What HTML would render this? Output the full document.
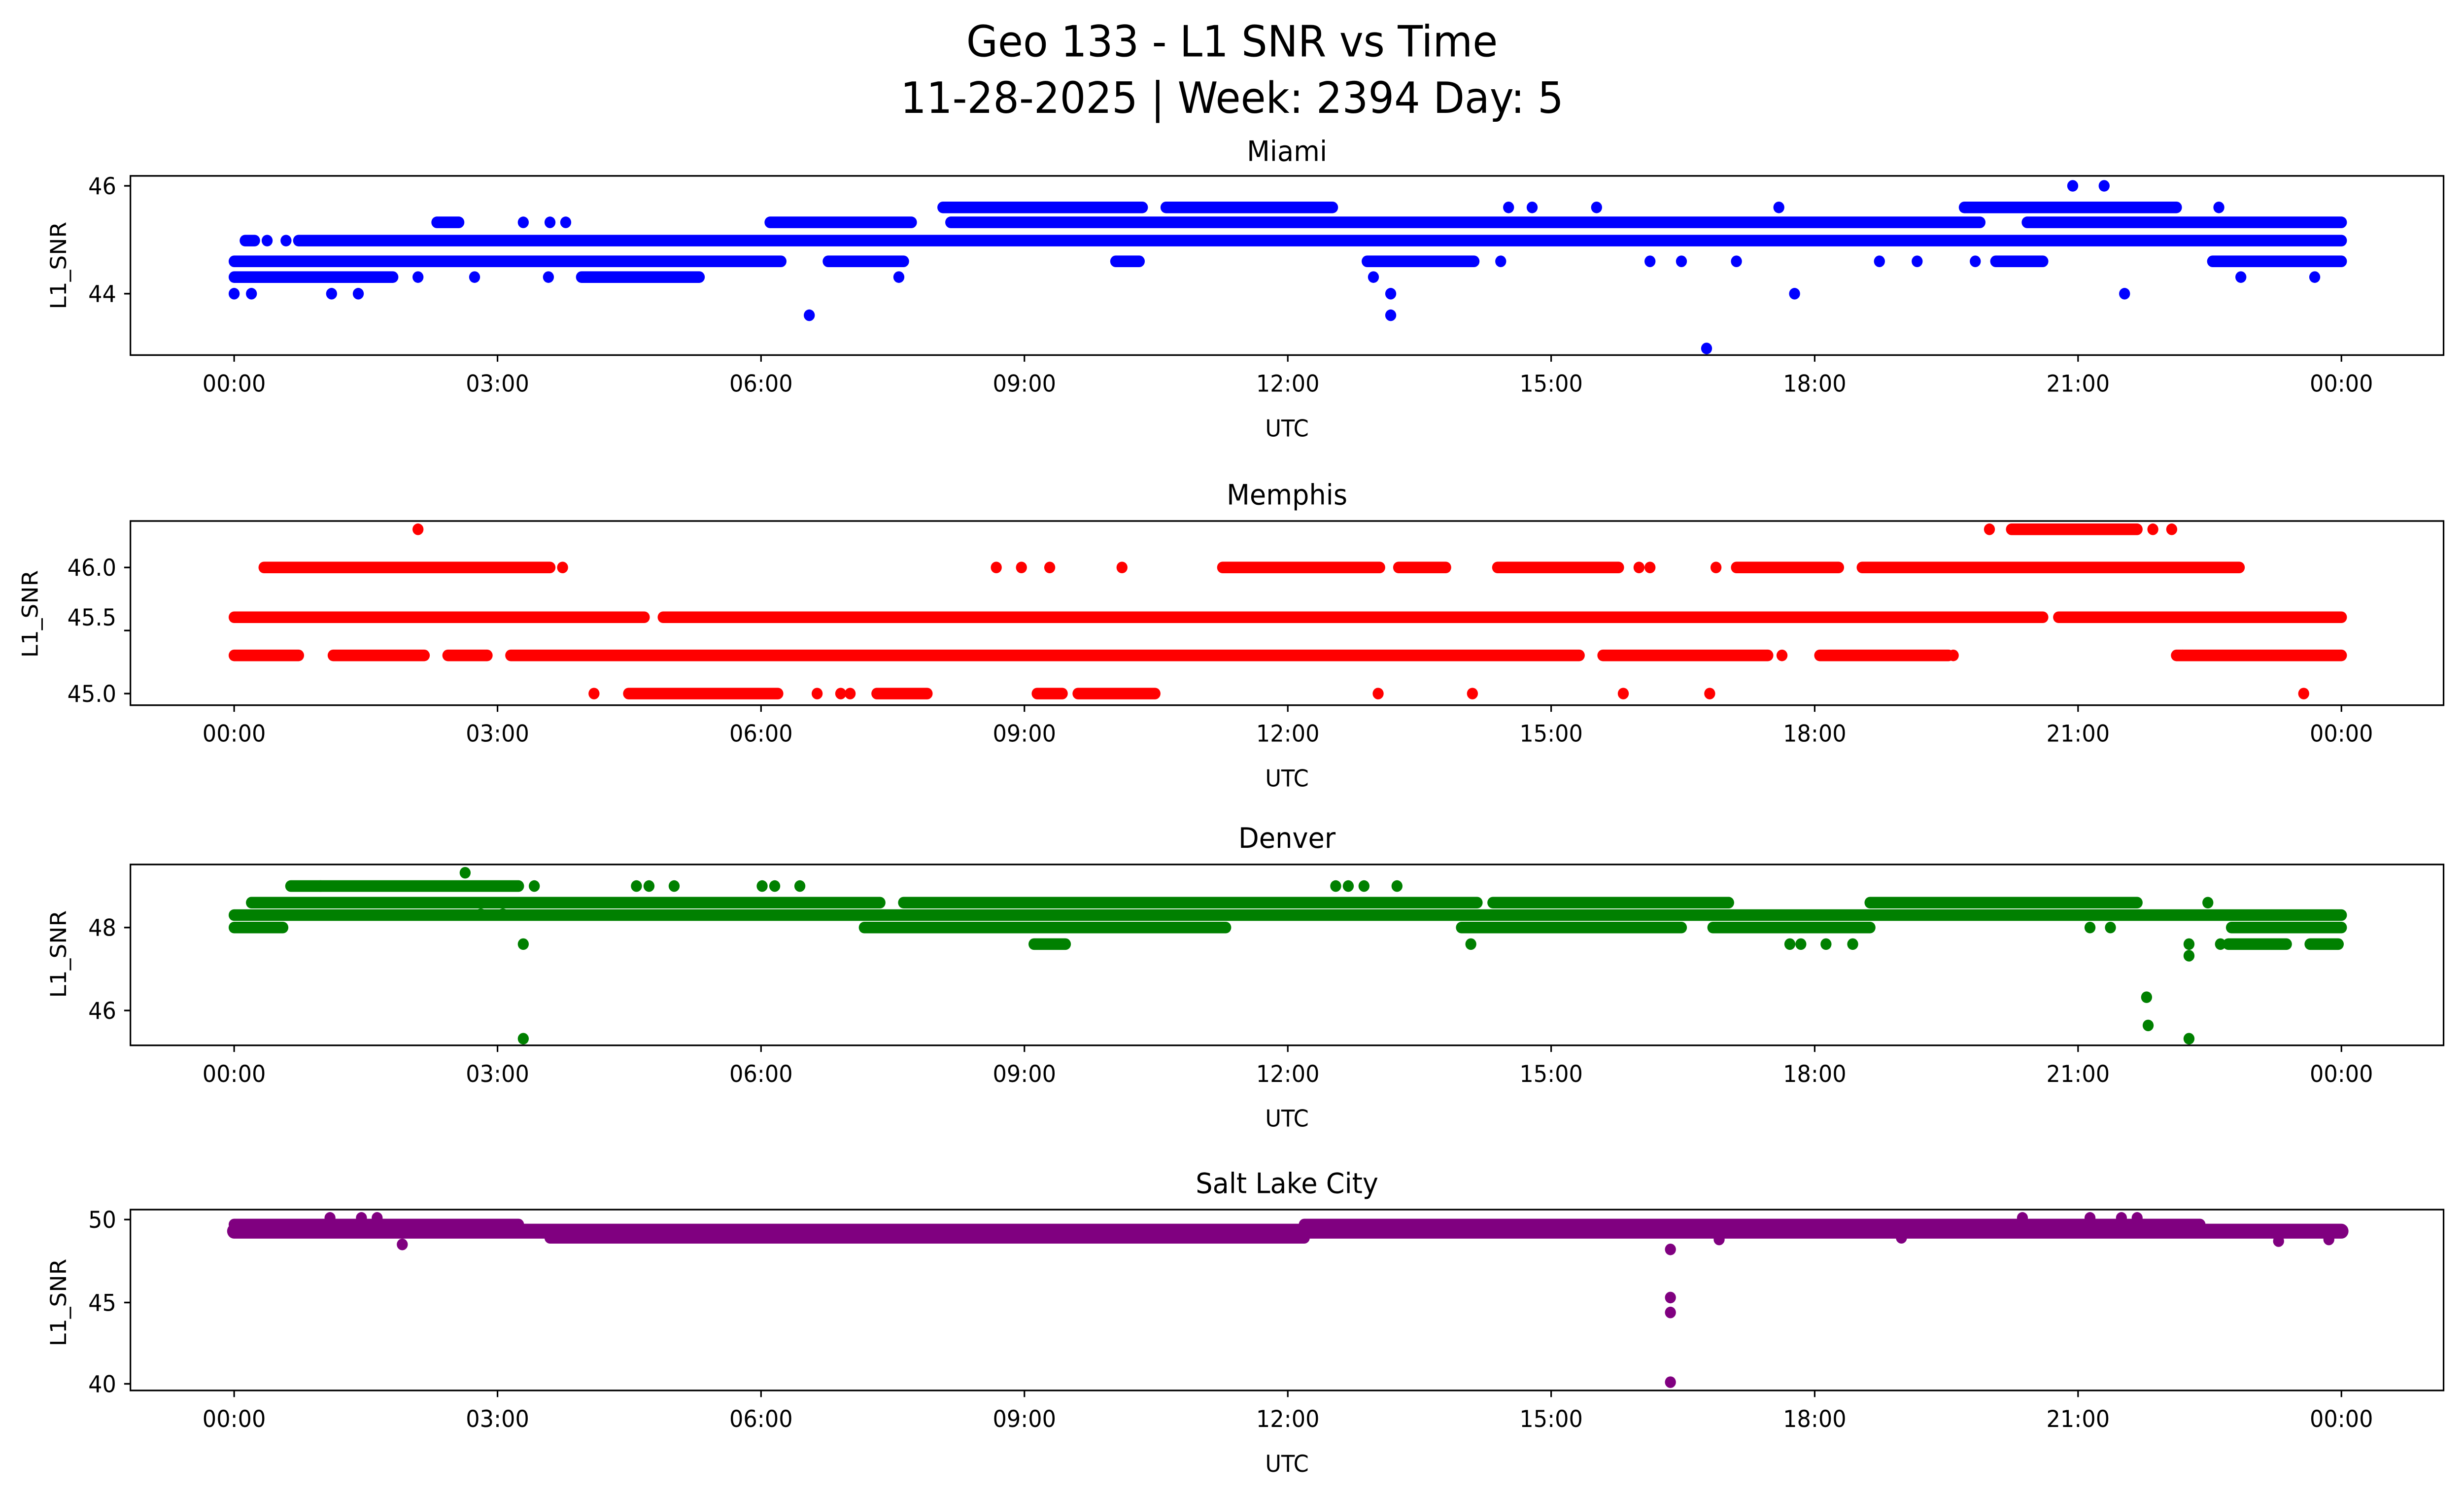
<!DOCTYPE html>
<html><head><meta charset="utf-8"><style>
html,body{margin:0;padding:0;background:#fff;overflow:hidden;width:100vw;height:100vh}
svg{display:block;width:100vw;height:100vh}
text{font-family:"DejaVu Sans","Liberation Sans",sans-serif;fill:#000}
</style></head><body>
<svg viewBox="0 0 1568 901" preserveAspectRatio="none" xmlns="http://www.w3.org/2000/svg">
<rect width="1568" height="901" fill="#fff"/>
<text x="784" y="34" font-size="26" text-anchor="middle">Geo 133 - L1 SNR vs Time</text>
<text x="784" y="68" font-size="26" text-anchor="middle">11-28-2025 | Week: 2394 Day: 5</text>

<!-- Miami -->
<g stroke="#0000ff" stroke-width="7" stroke-linecap="round" fill="#0000ff">
<line x1="149" y1="157.5" x2="497" y2="157.5"/><line x1="527" y1="157.5" x2="575" y2="157.5"/>
<line x1="870" y1="157.5" x2="938" y2="157.5"/><line x1="1408" y1="157.5" x2="1490" y2="157.5"/>
<line x1="710" y1="157.5" x2="725" y2="157.5"/><line x1="1270" y1="157.5" x2="1300" y2="157.5"/>
<line x1="149" y1="167" x2="250" y2="167"/><line x1="370" y1="167" x2="445" y2="167"/>
<line x1="190" y1="145" x2="1490" y2="145"/><line x1="156" y1="145" x2="162" y2="145"/>
<line x1="278" y1="134" x2="292" y2="134"/><line x1="490" y1="134" x2="580" y2="134"/>
<line x1="605" y1="134" x2="1260" y2="134"/><line x1="1290" y1="134" x2="1490" y2="134"/>
<line x1="600" y1="125" x2="727" y2="125"/><line x1="742" y1="125" x2="848" y2="125"/><line x1="1250" y1="125" x2="1385" y2="125"/>
</g>
<g fill="#0000ff">
<circle cx="149" cy="177" r="3.5"/><circle cx="160" cy="177" r="3.5"/><circle cx="211" cy="177" r="3.5"/><circle cx="228" cy="177" r="3.5"/>
<circle cx="515" cy="190" r="3.5"/><circle cx="874" cy="167" r="3.5"/><circle cx="885" cy="177" r="3.5"/><circle cx="885" cy="190" r="3.5"/>
<circle cx="1086" cy="210" r="3.5"/><circle cx="1142" cy="177" r="3.5"/><circle cx="1352" cy="177" r="3.5"/>
<circle cx="1319" cy="112" r="3.5"/><circle cx="1339" cy="112" r="3.5"/><circle cx="1016" cy="125" r="3.5"/><circle cx="1132" cy="125" r="3.5"/>
<circle cx="1412" cy="125" r="3.5"/><circle cx="1426" cy="167" r="3.5"/><circle cx="1473" cy="167" r="3.5"/><circle cx="302" cy="167" r="3.5"/><circle cx="349" cy="167" r="3.5"/><circle cx="266" cy="167" r="3.5"/><circle cx="572" cy="167" r="3.5"/>
<circle cx="333" cy="134" r="3.5"/><circle cx="350" cy="134" r="3.5"/><circle cx="360" cy="134" r="3.5"/>
<circle cx="170" cy="145" r="3.5"/><circle cx="182" cy="145" r="3.5"/>
<circle cx="955" cy="157.5" r="3.5"/><circle cx="1050" cy="157.5" r="3.5"/><circle cx="1070" cy="157.5" r="3.5"/><circle cx="1105" cy="157.5" r="3.5"/><circle cx="1196" cy="157.5" r="3.5"/><circle cx="1220" cy="157.5" r="3.5"/><circle cx="1257" cy="157.5" r="3.5"/><circle cx="960" cy="125" r="3.5"/><circle cx="975" cy="125" r="3.5"/>
</g>
<rect x="83" y="106" width="1472" height="108" fill="none" stroke="#000" stroke-width="1"/>
<text x="819" y="97" font-size="17" text-anchor="middle">Miami</text>
<g font-size="14" text-anchor="end"><text x="74" y="117">46</text><text x="74" y="182">44</text></g>
<g stroke="#000"><line x1="79" y1="112" x2="83" y2="112"/><line x1="79" y1="177" x2="83" y2="177"/></g>
<text transform="translate(42,160) rotate(-90)" font-size="14" text-anchor="middle">L1_SNR</text>

<!-- Memphis -->
<g stroke="#ff0000" stroke-width="7" stroke-linecap="round" fill="#ff0000">
<line x1="149" y1="372" x2="410" y2="372"/><line x1="422" y1="372" x2="1300" y2="372"/><line x1="1310" y1="372" x2="1490" y2="372"/>
<line x1="149" y1="395" x2="190" y2="395"/><line x1="212" y1="395" x2="270" y2="395"/><line x1="285" y1="395" x2="310" y2="395"/><line x1="325" y1="395" x2="1005" y2="395"/><line x1="1020" y1="395" x2="1125" y2="395"/><line x1="1158" y1="395" x2="1240" y2="395"/><line x1="1385" y1="395" x2="1490" y2="395"/>
<line x1="168" y1="342" x2="350" y2="342"/><line x1="778" y1="342" x2="878" y2="342"/><line x1="890" y1="342" x2="920" y2="342"/><line x1="953" y1="342" x2="1030" y2="342"/><line x1="1105" y1="342" x2="1170" y2="342"/><line x1="1185" y1="342" x2="1425" y2="342"/>
<line x1="1280" y1="319" x2="1360" y2="319"/>
<line x1="400" y1="418" x2="495" y2="418"/><line x1="558" y1="418" x2="590" y2="418"/><line x1="660" y1="418" x2="676" y2="418"/><line x1="686" y1="418" x2="735" y2="418"/>
</g>
<g fill="#ff0000">
<circle cx="266" cy="319" r="3.5"/><circle cx="1266" cy="319" r="3.5"/><circle cx="1370" cy="319" r="3.5"/><circle cx="1382" cy="319" r="3.5"/>
<circle cx="358" cy="342" r="3.5"/><circle cx="634" cy="342" r="3.5"/><circle cx="650" cy="342" r="3.5"/><circle cx="668" cy="342" r="3.5"/><circle cx="714" cy="342" r="3.5"/><circle cx="1043" cy="342" r="3.5"/><circle cx="1050" cy="342" r="3.5"/><circle cx="1092" cy="342" r="3.5"/>
<circle cx="378" cy="418" r="3.5"/><circle cx="520" cy="418" r="3.5"/><circle cx="535" cy="418" r="3.5"/><circle cx="541" cy="418" r="3.5"/><circle cx="877" cy="418" r="3.5"/><circle cx="937" cy="418" r="3.5"/><circle cx="1033" cy="418" r="3.5"/><circle cx="1088" cy="418" r="3.5"/><circle cx="1466" cy="418" r="3.5"/>
<circle cx="1134" cy="395" r="3.5"/><circle cx="1243" cy="395" r="3.5"/><circle cx="1389" cy="395" r="3.5"/><circle cx="1060" cy="372" r="3.5"/><circle cx="1070" cy="372" r="3.5"/>
</g>
<rect x="83" y="314" width="1472" height="111" fill="none" stroke="#000" stroke-width="1"/>
<text x="819" y="304" font-size="17" text-anchor="middle">Memphis</text>
<g font-size="14" text-anchor="end"><text x="74" y="347">46.0</text><text x="74" y="377">45.5</text><text x="74" y="423">45.0</text></g>
<g stroke="#000"><line x1="79" y1="342" x2="83" y2="342"/><line x1="79" y1="380" x2="83" y2="380"/><line x1="79" y1="418" x2="83" y2="418"/></g>
<text transform="translate(24,370) rotate(-90)" font-size="14" text-anchor="middle">L1_SNR</text>

<!-- Denver -->
<g stroke="#008000" stroke-width="7" stroke-linecap="round" fill="#008000">
<line x1="149" y1="551.5" x2="1490" y2="551.5"/>
<line x1="160" y1="544" x2="560" y2="544"/><line x1="575" y1="544" x2="940" y2="544"/><line x1="950" y1="544" x2="1100" y2="544"/><line x1="1190" y1="544" x2="1360" y2="544"/>
<line x1="185" y1="534" x2="330" y2="534"/>
<line x1="149" y1="559" x2="180" y2="559"/><line x1="550" y1="559" x2="780" y2="559"/><line x1="930" y1="559" x2="1070" y2="559"/><line x1="1090" y1="559" x2="1190" y2="559"/><line x1="1420" y1="559" x2="1490" y2="559"/>
<line x1="658" y1="569" x2="678" y2="569"/><line x1="1418" y1="569" x2="1455" y2="569"/><line x1="1470" y1="569" x2="1488" y2="569"/>
</g>
<g fill="#008000">
<circle cx="296" cy="526" r="3.5"/><circle cx="204" cy="534" r="3.5"/><circle cx="340" cy="534" r="3.5"/><circle cx="405" cy="534" r="3.5"/><circle cx="413" cy="534" r="3.5"/><circle cx="429" cy="534" r="3.5"/><circle cx="485" cy="534" r="3.5"/><circle cx="493" cy="534" r="3.5"/><circle cx="509" cy="534" r="3.5"/><circle cx="850" cy="534" r="3.5"/><circle cx="858" cy="534" r="3.5"/><circle cx="868" cy="534" r="3.5"/><circle cx="889" cy="534" r="3.5"/>
<circle cx="333" cy="569" r="3.5"/><circle cx="333" cy="626" r="3.5"/><circle cx="936" cy="569" r="3.5"/><circle cx="1139" cy="569" r="3.5"/><circle cx="1146" cy="569" r="3.5"/><circle cx="1162" cy="569" r="3.5"/><circle cx="1179" cy="569" r="3.5"/>
<circle cx="1366" cy="601" r="3.5"/><circle cx="1367" cy="618" r="3.5"/><circle cx="1393" cy="626" r="3.5"/><circle cx="1393" cy="576" r="3.5"/><circle cx="1393" cy="569" r="3.5"/><circle cx="1405" cy="544" r="3.5"/><circle cx="1413" cy="569" r="3.5"/>
<circle cx="1100" cy="544" r="3.5"/><circle cx="1330" cy="559" r="3.5"/><circle cx="1343" cy="559" r="3.5"/><circle cx="306" cy="551" r="3.5"/><circle cx="320" cy="551" r="3.5"/>
</g>
<rect x="83" y="521" width="1472" height="109" fill="none" stroke="#000" stroke-width="1"/>
<text x="819" y="511" font-size="17" text-anchor="middle">Denver</text>
<g font-size="14" text-anchor="end"><text x="74" y="564">48</text><text x="74" y="614">46</text></g>
<g stroke="#000"><line x1="79" y1="559" x2="83" y2="559"/><line x1="79" y1="609" x2="83" y2="609"/></g>
<text transform="translate(42,575) rotate(-90)" font-size="14" text-anchor="middle">L1_SNR</text>

<!-- Salt Lake City -->
<g stroke="#800080" stroke-linecap="round" fill="#800080">
<line x1="149" y1="742" x2="1490" y2="742" stroke-width="9"/>
<line x1="149" y1="738" x2="330" y2="738" stroke-width="7"/>
<line x1="830" y1="738" x2="1400" y2="738" stroke-width="7"/>
<line x1="350" y1="746" x2="830" y2="746" stroke-width="7"/>
</g>
<g fill="#800080">
<circle cx="210" cy="734" r="3.5"/><circle cx="230" cy="734" r="3.5"/><circle cx="240" cy="734" r="3.5"/><circle cx="256" cy="750" r="3.5"/>
<circle cx="1063" cy="753" r="3.5"/><circle cx="1063" cy="782" r="3.5"/><circle cx="1063" cy="791" r="3.5"/><circle cx="1063" cy="833" r="3.5"/>
<circle cx="1287" cy="734" r="3.5"/><circle cx="1330" cy="734" r="3.5"/><circle cx="1350" cy="734" r="3.5"/><circle cx="1360" cy="734" r="3.5"/>
<circle cx="1094" cy="747" r="3.5"/><circle cx="1450" cy="748" r="3.5"/><circle cx="1482" cy="747" r="3.5"/><circle cx="1210" cy="746" r="3.5"/>
</g>
<rect x="83" y="729" width="1472" height="109" fill="none" stroke="#000" stroke-width="1"/>
<text x="819" y="719" font-size="17" text-anchor="middle">Salt Lake City</text>
<g font-size="14" text-anchor="end"><text x="74" y="740">50</text><text x="74" y="790">45</text><text x="74" y="839">40</text></g>
<g stroke="#000"><line x1="79" y1="735" x2="83" y2="735"/><line x1="79" y1="785" x2="83" y2="785"/><line x1="79" y1="834" x2="83" y2="834"/></g>
<text transform="translate(42,785) rotate(-90)" font-size="14" text-anchor="middle">L1_SNR</text>

<!-- x axes -->
<g font-size="14" text-anchor="middle">
<g id="xa">
<g stroke="#000"><line x1="149" y1="214" x2="149" y2="218"/><line x1="316.6" y1="214" x2="316.6" y2="218"/><line x1="484.3" y1="214" x2="484.3" y2="218"/><line x1="651.9" y1="214" x2="651.9" y2="218"/><line x1="819.5" y1="214" x2="819.5" y2="218"/><line x1="987.1" y1="214" x2="987.1" y2="218"/><line x1="1154.8" y1="214" x2="1154.8" y2="218"/><line x1="1322.4" y1="214" x2="1322.4" y2="218"/><line x1="1490" y1="214" x2="1490" y2="218"/></g>
<text x="149" y="236">00:00</text><text x="316.6" y="236">03:00</text><text x="484.3" y="236">06:00</text><text x="651.9" y="236">09:00</text><text x="819.5" y="236">12:00</text><text x="987.1" y="236">15:00</text><text x="1154.8" y="236">18:00</text><text x="1322.4" y="236">21:00</text><text x="1490" y="236">00:00</text>
<text x="819" y="263">UTC</text>
</g>
<use href="#xa" y="211"/>
<use href="#xa" y="416"/>
<use href="#xa" y="624"/>
</g>
</svg>
</body></html>
